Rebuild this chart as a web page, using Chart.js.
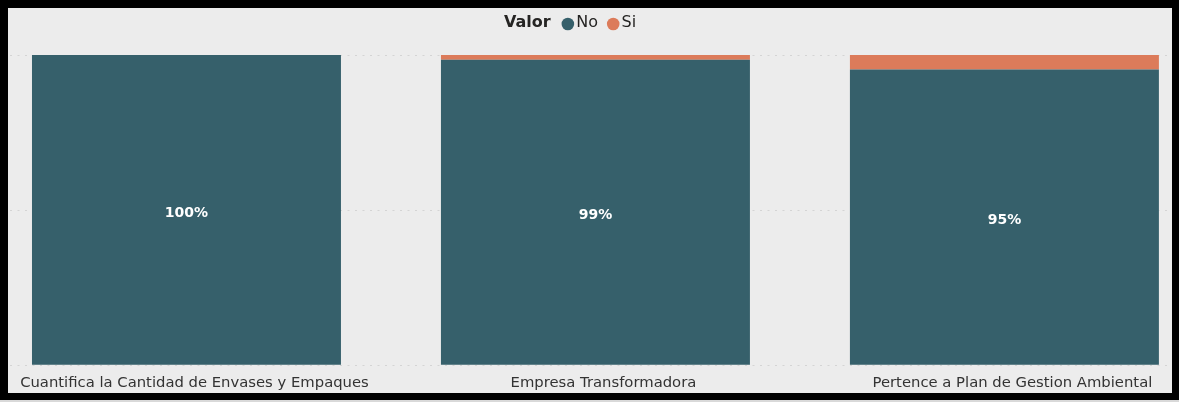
<!DOCTYPE html>
<html>
<head>
<meta charset="utf-8">
<script src="https://cdn.jsdelivr.net/npm/chart.js@4/dist/chart.umd.min.js"></script>
<style>
  html, body { margin: 0; padding: 0; background: #d9d9d9; }
  #frame { position: absolute; left: 0; top: 0; width: 1179px; height: 400px; background: #000; }
  #panel { position: absolute; left: 8px; top: 8px; width: 1164px; height: 385px; background: #ececec; overflow: hidden; }
  #panel canvas { display: block; }
</style>
</head>
<body>
<div id="frame">
  <div id="panel"><canvas id="chart" width="1164" height="394"></canvas></div>
</div>
<script>
// data
const categories = [
  'Cuantifica la Cantidad de Envases y Empaques',
  'Empresa Transformadora',
  'Pertence a Plan de Gestion Ambiental'
];
const legendTitle = 'Valor';
const seriesNames = ['No', 'Si'];
const noValues = [100, 98.5, 95.3];
const siValues = [0, 1.5, 4.7];

const colors = ['#36606b', '#dc7b5a'];
const FONT = '"DejaVu Sans", Verdana, sans-serif';

// legend "Valor ● No ● Si" centered over the plot
const legendPlugin = {
  id: 'pbiLegend',
  afterDraw(chart) {
    const ctx = chart.ctx;
    const y = 15;
    const r = 6.3;
    ctx.save();
    ctx.textBaseline = 'middle';
    ctx.font = 'bold 16px ' + FONT;
    const titleW = ctx.measureText(legendTitle).width;
    ctx.font = '16px ' + FONT;
    const items = chart.data.datasets.map(ds => ({ text: ds.label, color: ds.backgroundColor, w: ctx.measureText(ds.label).width }));
    let total = titleW + 11;
    items.forEach((it, i) => { total += 2 * r + 2 + it.w + (i < items.length - 1 ? 9 : 0); });
    let x = (chart.width - total) / 2 - 20;
    ctx.fillStyle = '#252423';
    ctx.font = 'bold 16px ' + FONT;
    ctx.fillText(legendTitle, x, y);
    x += titleW + 11;
    ctx.font = '16px ' + FONT;
    items.forEach(it => {
      ctx.beginPath();
      ctx.fillStyle = it.color;
      ctx.arc(x + r, y + 1, r, 0, Math.PI * 2);
      ctx.fill();
      x += 2 * r + 2;
      ctx.fillStyle = '#252423';
      ctx.fillText(it.text, x, y);
      x += it.w + 9;
    });
    ctx.restore();
  }
};

// white % labels in the middle of the "No" segments
const valueLabels = {
  id: 'valueLabels',
  afterDatasetsDraw(chart) {
    const ctx = chart.ctx;
    const meta = chart.getDatasetMeta(0);
    ctx.save();
    ctx.font = 'bold 14px ' + FONT;
    ctx.fillStyle = '#ffffff';
    ctx.textAlign = 'center';
    ctx.textBaseline = 'middle';
    meta.data.forEach((bar, i) => {
      const v = noValues[i];
      ctx.fillText(Math.round(v) + '%', bar.x, (bar.y + bar.base) / 2 + 3);
    });
    ctx.restore();
  }
};

new Chart(document.getElementById('chart'), {
  type: 'bar',
  data: {
    datasets: [
      { label: seriesNames[0], data: noValues.map((v, i) => ({ x: i, y: v })), backgroundColor: colors[0] },
      { label: seriesNames[1], data: siValues.map((v, i) => ({ x: i, y: v })), backgroundColor: colors[1] }
    ]
  },
  options: {
    responsive: false,
    animation: false,
    layout: { padding: { top: 47, bottom: 0, left: 2, right: 4 } },
    datasets: { bar: { barPercentage: 0.7555, categoryPercentage: 1 } },
    plugins: { legend: { display: false }, tooltip: { enabled: false } },
    scales: {
      x: {
        type: 'linear',
        stacked: true,
        offset: false,
        min: -0.4315,
        max: 2.4,
        grid: { display: false, drawTicks: false },
        border: { display: false },
        afterFit: scale => { scale.paddingLeft = 0; scale.paddingRight = 0; },
        ticks: {
          stepSize: 1,
          includeBounds: false,
          autoSkip: false,
          maxRotation: 0,
          padding: 9.5,
          labelOffset: 8,
          color: '#333333',
          font: { family: FONT, size: 14.8 },
          callback: v => categories[v]
        }
      },
      y: {
        stacked: true,
        min: 0,
        max: 100,
        ticks: { display: false, stepSize: 50 },
        grid: { color: '#d4d4d4', lineWidth: 1, drawTicks: false },
        border: { display: false, dash: [2, 5.5] }
      }
    }
  },
  plugins: [legendPlugin, valueLabels]
});
</script>
</body>
</html>
